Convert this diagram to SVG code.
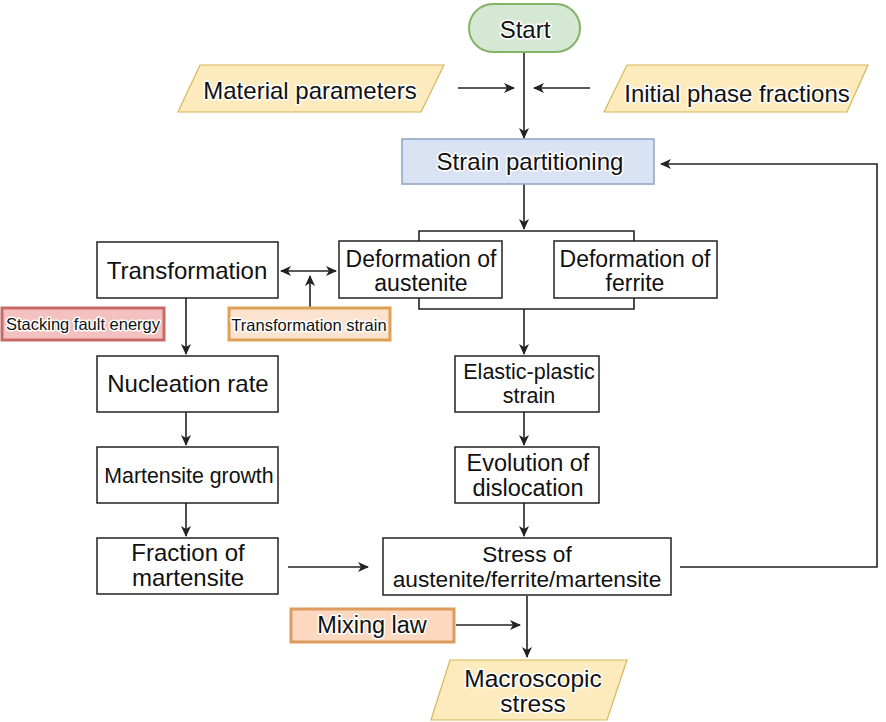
<svg xmlns="http://www.w3.org/2000/svg" width="886" height="722" viewBox="0 0 886 722">
<defs>
<marker id="ah" markerWidth="11" markerHeight="10" refX="10" refY="5" orient="auto" markerUnits="userSpaceOnUse">
<path d="M0,0 L11,5 L0,10 L3,5 Z" fill="#222"/>
</marker>
<marker id="ahs" markerWidth="11" markerHeight="10" refX="1" refY="5" orient="auto" markerUnits="userSpaceOnUse">
<path d="M11,0 L0,5 L11,10 L8,5 Z" fill="#222"/>
</marker>
<style>
.box{fill:#fff;stroke:#222;stroke-width:1.5}
.t{font-family:"Liberation Sans",Arial,sans-serif;font-size:23.5px;fill:#111;text-anchor:middle}
.h{stroke:#fff;stroke-width:3;paint-order:stroke;stroke-linejoin:round}
.s{font-size:16.5px}
.ln{fill:none;stroke:#222;stroke-width:1.6}
</style>
</defs>
<rect width="886" height="722" fill="#fff"/>
<g id="connectors">
<path class="ln" d="M524,52 V138" marker-end="url(#ah)"/>
<path class="ln" d="M458,88 H514" marker-end="url(#ah)"/>
<path class="ln" d="M590,88 H534" marker-end="url(#ah)"/>
<path class="ln" d="M524,184 V229" marker-end="url(#ah)"/>
<path class="ln" d="M419,241 V231 H634 V241"/>
<path class="ln" d="M419,298 V309 H634 V298"/>
<path class="ln" d="M524,309 V354" marker-end="url(#ah)"/>
<path class="ln" d="M524,412 V445" marker-end="url(#ah)"/>
<path class="ln" d="M524,503 V536" marker-end="url(#ah)"/>
<path class="ln" d="M680,567 H877 V164 H661" marker-end="url(#ah)"/>
<path class="ln" d="M281,271 H336" marker-start="url(#ahs)" marker-end="url(#ah)"/>
<path class="ln" d="M310,307 V276" marker-end="url(#ah)"/>
<path class="ln" d="M186,298 V354" marker-end="url(#ah)"/>
<path class="ln" d="M186,412 V445" marker-end="url(#ah)"/>
<path class="ln" d="M186,503 V536" marker-end="url(#ah)"/>
<path class="ln" d="M288,567 H368" marker-end="url(#ah)"/>
<path class="ln" d="M527,596 V657" marker-end="url(#ah)"/>
<path class="ln" d="M456,625 H520" marker-end="url(#ah)"/>
</g>
<g id="start">
<rect x="469" y="4" width="111" height="48" rx="24" fill="#d5e8d4" stroke="#82b366" stroke-width="2"/>
<text class="t h" x="525" y="38" style="font-size:24px">Start</text>
</g>
<g id="material">
<polygon points="200,65 444,65 421,112 178,112" fill="#fdebbe" stroke="#d6b656" stroke-width="1.2"/>
<text class="t h" x="310" y="99" style="font-size:24px">Material parameters</text>
</g>
<g id="initial">
<polygon points="627,65 868,65 847,112 604,112" fill="#fdebbe" stroke="#d6b656" stroke-width="1.2"/>
<text class="t h" x="737" y="102" style="font-size:24px">Initial phase fractions</text>
</g>
<g id="strain-partitioning">
<rect x="402" y="139" width="252" height="45" fill="#dae3f3" stroke="#8fa4c9" stroke-width="1.5"/>
<text class="t h" x="530" y="170" style="font-size:24px">Strain partitioning</text>
</g>
<g id="def-austenite">
<rect class="box" x="339" y="241" width="163" height="57"/>
<text class="t" x="421" y="267" style="font-size:23px">Deformation of</text>
<text class="t" x="421" y="291" style="font-size:23px">austenite</text>
</g>
<g id="def-ferrite">
<rect class="box" x="554" y="241" width="163" height="57"/>
<text class="t" x="635" y="267" style="font-size:23px">Deformation of</text>
<text class="t" x="635" y="291" style="font-size:23px">ferrite</text>
</g>
<g id="transformation">
<rect class="box" x="97" y="242" width="181" height="56"/>
<text class="t" x="187" y="279" style="font-size:24px">Transformation</text>
</g>
<g id="stacking-fault">
<rect x="2" y="308" width="162" height="32" fill="#f3c2c0" stroke="#c76a68" stroke-width="3"/>
<text class="t h s" x="83" y="330">Stacking fault energy</text>
</g>
<g id="transformation-strain">
<rect x="229" y="308" width="161" height="32" fill="#fbe3cf" stroke="#dea155" stroke-width="3"/>
<text class="t h s" x="309" y="331">Transformation strain</text>
</g>
<g id="nucleation">
<rect class="box" x="97" y="356" width="181" height="56"/>
<text class="t" x="188" y="392" style="font-size:24px">Nucleation rate</text>
</g>
<g id="martensite-growth">
<rect class="box" x="97" y="447" width="181" height="56"/>
<text class="t" x="189" y="483" style="font-size:21.3px">Martensite growth</text>
</g>
<g id="fraction">
<rect class="box" x="97" y="538" width="181" height="56"/>
<text class="t" x="188" y="561" style="font-size:24px">Fraction of</text>
<text class="t" x="188" y="586" style="font-size:24px">martensite</text>
</g>
<g id="elastic-plastic">
<rect class="box" x="455" y="356" width="144" height="56"/>
<text class="t" x="529" y="379" style="font-size:21.5px">Elastic-plastic</text>
<text class="t" x="529" y="403" style="font-size:21.5px">strain</text>
</g>
<g id="dislocation">
<rect class="box" x="455" y="447" width="144" height="56"/>
<text class="t" x="528" y="471">Evolution of</text>
<text class="t" x="528" y="496">dislocation</text>
</g>
<g id="stress">
<rect class="box" x="383" y="538" width="288" height="57"/>
<text class="t" x="527" y="562" style="font-size:22.7px">Stress of</text>
<text class="t" x="527" y="587" style="font-size:22.7px">austenite/ferrite/martensite</text>
</g>
<g id="mixing-law">
<rect x="291" y="609" width="163" height="33" fill="#fbd8bf" stroke="#dd9c5e" stroke-width="3"/>
<text class="t h" x="372" y="633">Mixing law</text>
</g>
<g id="macroscopic">
<polygon points="450,660 627,660 607,720 431,720" fill="#fdebbe" stroke="#d6b656" stroke-width="1.2"/>
<text class="t h" x="533" y="687" style="font-size:24.5px">Macroscopic</text>
<text class="t h" x="533" y="712" style="font-size:24.5px">stress</text>
</g>
</svg>
